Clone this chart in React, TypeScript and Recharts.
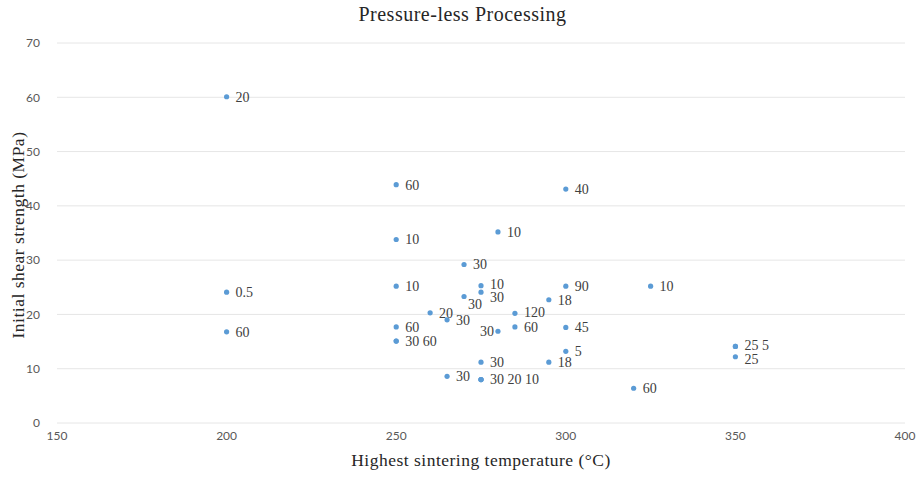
import { ScatterChart, Scatter, XAxis, YAxis, CartesianGrid } from "recharts";

// sintering temperature (°C)
const temperature = [
  200, 200, 200, 250, 250, 250, 250, 250, 250, 260, 265, 265, 270, 270, 275, 275, 275, 275,
  275, 275, 280, 280, 285, 285, 295, 295, 300, 300, 300, 300, 320, 325, 350, 350, 350,
];
// initial shear strength (MPa)
const strength = [
  60.1, 24.1, 16.8, 43.9, 33.8, 25.2, 17.7, 15.1, 15.1, 20.3, 19.0, 8.6, 29.2, 23.3, 25.3, 24.1, 11.2, 8.0,
  8.0, 8.0, 35.2, 16.9, 20.2, 17.7, 22.7, 11.2, 43.1, 25.2, 17.6, 13.2, 6.4, 25.2, 14.1, 14.1, 12.2,
];
// holding time labels
const holdTime = [
  "20", "0.5", "60", "60", "10", "10", "60", "30", "60", "20", "30", "30", "30", "30", "10", "30", "30", "30",
  "20", "10", "10", "30", "120", "60", "18", "18", "40", "90", "45", "5", "60", "10", "25", "5", "25",
];

const xTicks = [150, 200, 250, 300, 350, 400];
const yTicks = [0, 10, 20, 30, 40, 50, 60, 70];

// overlapping points share one label, e.g. "30 20 10"
const points = temperature.map((x, i) => {
  const first = temperature.findIndex((t, j) => t === x && strength[j] === strength[i]);
  const label =
    first === i
      ? holdTime.filter((_, j) => temperature[j] === x && strength[j] === strength[i]).join(" ")
      : "";
  return { x, y: strength[i], label, idx: i };
});

// label placement tweaks (by point index)
const labelBelow = new Set([13]);
const labelLeft = new Set([21]);
const labelDown = new Set([15, 34]);
const labelUp = new Set([14, 22, 32]);

const labelFont = "'Liberation Serif', serif";

function Dot(props: any) {
  const { cx, cy, payload } = props;
  const i = payload.idx;
  let tx = cx + 9;
  let ty = cy;
  let anchor: "start" | "end" = "start";
  if (labelBelow.has(i)) {
    tx = cx + 4;
    ty = cy + 8;
  }
  if (labelDown.has(i)) ty = cy + (i === 15 ? 4.5 : 2);
  if (labelUp.has(i)) ty = cy - 1.5;
  if (labelLeft.has(i)) {
    tx = cx - 4;
    anchor = "end";
  }
  return (
    <g>
      <circle cx={cx} cy={cy} r={2.6} fill="#5b9bd5" />
      {payload.label && (
        <text
          x={tx}
          y={ty}
          dy="0.35em"
          textAnchor={anchor}
          fontSize={14}
          fontFamily={labelFont}
          fill="#404040"
        >
          {payload.label}
        </text>
      )}
    </g>
  );
}

export default function App() {
  const tick = { fontSize: 12, fontFamily: "Lato, sans-serif", fill: "#595959" };
  const axisTitle = {
    fontFamily: labelFont,
    fontSize: 17.5,
    letterSpacing: 0.5,
    color: "#262626",
  };
  return (
    <div style={{ position: "absolute", left: 0, top: 0, width: 917, height: 477, background: "#fff" }}>
      <div
        style={{
          position: "absolute",
          left: 0,
          width: 917,
          top: 3,
          textAlign: "center",
          fontFamily: labelFont,
          fontSize: 20,
          letterSpacing: 0.5,
          color: "#262626",
          paddingLeft: 4,
        }}
      >
        Pressure-less Processing
      </div>
      <div
        style={{
          ...axisTitle,
          position: "absolute",
          left: 0,
          width: 962,
          top: 450,
          textAlign: "center",
        }}
      >
        Highest sintering temperature (°C)
      </div>
      <div
        style={{
          ...axisTitle,
          position: "absolute",
          left: 18 - 150,
          top: 235 - 11,
          width: 300,
          height: 22,
          lineHeight: "22px",
          textAlign: "center",
          transform: "rotate(-90deg)",
        }}
      >
        Initial shear strength (MPa)
      </div>
      <ScatterChart width={917} height={477} margin={{ top: 43, right: 12, bottom: 24, left: 0 }}>
        <CartesianGrid vertical={false} stroke="#e6e6e6" />
        <XAxis
          type="number"
          dataKey="x"
          domain={[150, 400]}
          ticks={xTicks}
          axisLine={false}
          tickLine={false}
          tick={tick}
          height={30}
          interval={0}
        />
        <YAxis
          type="number"
          dataKey="y"
          domain={[0, 70]}
          ticks={yTicks}
          axisLine={false}
          tickLine={false}
          tick={tick}
          width={57}
          tickMargin={11}
          interval={0}
        />
        <Scatter data={points} shape={<Dot />} isAnimationActive={false} />
      </ScatterChart>
    </div>
  );
}
